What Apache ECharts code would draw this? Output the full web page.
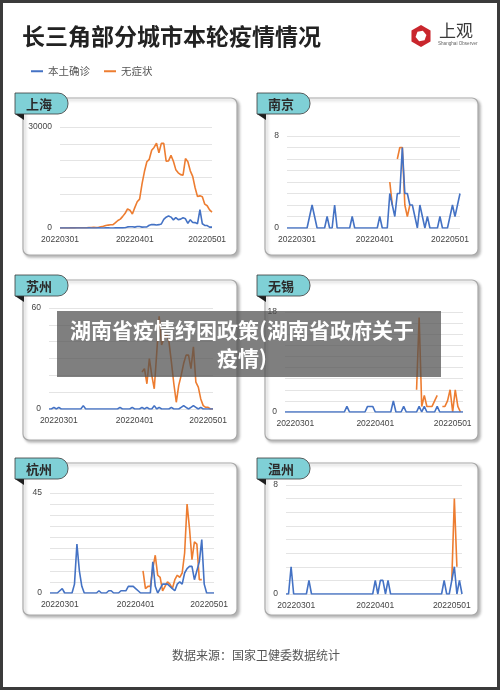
<!DOCTYPE html>
<html>
<head>
<meta charset="utf-8">
<script src="https://cdn.jsdelivr.net/npm/echarts@6/dist/echarts.min.js"></script>
<style>
html,body{margin:0;padding:0;background:#fff;}
#c{width:500px;height:690px;}
</style>
</head>
<body>
<div id="c"></div>
<script>
// ---------------- data ----------------
const cities = ['上海', '南京', '苏州', '无锡', '杭州', '温州'];
const seriesNames = ['本土确诊', '无症状'];
const tickLabels = ['20220301', '20220401', '20220501'];
const startDates = ['20220301', '20220225', '20220225', '20220225', '20220225', '20220225'];
const axisMax = [30000, 8, 60, 18, 45, 8];
const axisStep = [5000, 1, 10, 2, 5, 1];

const shConfirmed = [1,3,2,3,0,3,4,3,4,11,5,1,41,5,5,8,57,8,17,24,31,4,4,29,38,45,50,96,326,355,358,
  260,438,425,268,311,322,824,1015,1006,914,994,1189,2573,3200,3590,3238,2417,3084,2494,2634,3029,2736,1401,2472,1661,1606,1292,5487,1249,788,
  727,274,260];
const shAsym = [1,3,14,16,28,45,51,62,76,64,78,64,128,130,197,150,203,366,492,734,865,977,979,1580,2231,2631,3450,4381,5656,5298,4144,
  6051,7788,8581,13086,16766,19660,20398,23107,23937,25173,22348,25141,25146,19872,19923,21582,19831,17332,16407,15861,15698,20634,19657,16983,15319,11956,9330,9545,9277,7084,
  6606,5395,4722];

const njConfirmed = [0,0,0,0,0,0,0,0, 0,1,2,1,0,0,0,0, 1,0,0,2,0,0,0,0, 0,0,1,0,0,0,0,0,
  0,0,0,0,0,1,0,0, 0,3,2,1,3,3,7,3, 3,2,2,1,0,2,1,0, 1,0,0,0,0,1,0,0, 0,1,2,1,2,3];
const njAsym = [null,null,null,null,null,null,null,null,null,null,null,null,null,null,null,null,null,null,null,null,
  null,null,null,null,null,null,null,null,null,null,null,null,null,null,null,null,null,null,null,null,
  null,4,2,null,6,7,7,2,1,2,null,null,null,null,null,null,null,null,null,null,
  null,null,null,null,null,null,null,null,null,null];

const szConfirmed = [0,0,1,0,1,0,0,0, 0,0,0,0,0,0,2,0, 0,0,0,0,0,0,0,0, 0,0,0,0,0,1,0,0,
  0,0,1,0,0,0,1,0, 1,0,0,2,0,1,0,0, 0,0,1,0,0,0,1,2, 1,0,1,2,1,0,1,0, 0,0,0,0];
const szAsym = [null,null,null,null,null,null,null,null,null,null,null,null,null,null,null,null,null,null,null,null,
  null,null,null,null,null,null,null,null,null,null,null,null,null,null,null,null,null,null,
  22,24,15,30,20,12,33,55,38,42,45,40,28,15,4,14,20,27,32,32,24,37,16,13,6,2,1,1,0,0];

const wxConfirmed = [0,0,0,0,0,0,0,0,0,0, 0,0,0,0,0,0,0,0,0,0, 0,0,0,0,1,0,0,0,0,0,
  0,0,1,1,1,0,0,0,0,0, 0,0,2,0,0,0,1,0,0,0, 0,0,1,0,1,0,0,0,0,1, 0,0,0,0,0,0,0,0,0,0];
const wxAsym = [null,null,null,null,null,null,null,null,null,null,null,null,null,null,null,null,null,null,null,null,
  null,null,null,null,null,null,null,null,null,null,null,null,null,null,null,null,null,null,null,null,
  null,null,null,null,null,null,null,null,null,null,null,
  4,17,1,3,1,1,1,2,3,null,1,1,2,4,0,4,1,0,null];

const hzConfirmed = [0,0,0,0,1,2,0,0,0,0,4,22,10,3,0, 0,0,0,0,0,1,0,0,0,1,1,0,0,0,1,1,1,3,3,3,2,1,0,0,0,0,0,
  14,3,0,2,4,4,4,3,2,1,4,5,4,9,11,12,12,6,10,14,24,4,0,0,0,0];
const hzAsym = [null,null,null,null,null,null,null,null,null,null,null,null,null,null,null,null,null,null,null,null,
  null,null,null,null,null,null,null,null,null,null,null,null,null,null,null,null,null,null,
  10,2,3,3,11,17,8,7,1,3,5,4,2,6,8,7,9,18,40,29,15,23,22,6,6,null,null,null,null,null];

const wzConfirmed = [0,0,2,0,0,0,0,0,0,1, 0,0,0,0,0,0,0,0,0,0, 0,0,0,0,0,0,0,0,0,0,
  0,0,0,0,0,1,0,1,1,0, 1,0,0,0,0,0,0,0,0,0, 0,0,0,0,0,0,0,0,0,0, 0,0,1,0,0,1,2,0,1,0];
const wzAsym = [null,null,null,null,null,null,null,null,null,null,null,null,null,null,null,null,null,null,null,null,
  null,null,null,null,null,null,null,null,null,null,null,null,null,null,null,null,null,null,null,null,
  null,null,null,null,null,null,null,null,null,null,null,null,null,null,null,null,null,null,null,null,
  null,null,null,null,null,1,7,2,null,null];

const confirmedData = [shConfirmed, njConfirmed, szConfirmed, wxConfirmed, hzConfirmed, wzConfirmed];
const asymData = [shAsym, njAsym, szAsym, wxAsym, hzAsym, wzAsym];

// ---------------- layout ----------------
const gridBoxes = [
  {left: 60, top: 127, width: 152, height: 101},
  {left: 287, top: 136, width: 173, height: 92},
  {left: 49, top: 308, width: 164, height: 101},
  {left: 285, top: 312, width: 178, height: 100},
  {left: 50, top: 493, width: 164, height: 100},
  {left: 286, top: 485, width: 176, height: 109}
];
const colX = [23, 265], colW = [214, 213];
const rowY = [98, 280, 463], rowH = [157, 160, 152];
const tagX = [15, 257];
const BLUE = '#4472c4', ORANGE = '#ed7d31';

function dateList(start, n) {
  const y = +start.slice(0, 4), m = +start.slice(4, 6) - 1, d = +start.slice(6, 8);
  const out = [];
  for (let i = 0; i < n; i++) {
    const t = new Date(Date.UTC(y, m, d + i));
    out.push(t.getUTCFullYear() + String(t.getUTCMonth() + 1).padStart(2, '0') + String(t.getUTCDate()).padStart(2, '0'));
  }
  return out;
}

const grids = [], xAxes = [], yAxes = [], series = [], graphics = [];

// outer frame
graphics.push({type: 'rect', shape: {x: 0, y: 0, width: 500, height: 690}, style: {fill: 'none', stroke: '#3b3b3b', lineWidth: 6}, z: 200, silent: true});

cities.forEach((city, i) => {
  const col = i % 2, row = Math.floor(i / 2);
  // panel
  graphics.push({type: 'rect', shape: {x: colX[col], y: rowY[row], width: colW[col], height: rowH[row], r: 6},
    style: {fill: '#fff', stroke: '#a9a9a9', lineWidth: 1.2, shadowBlur: 3, shadowOffsetX: 2, shadowOffsetY: 2, shadowColor: 'rgba(0,0,0,0.28)'},
    z: -5, silent: true});
  // fold triangle
  const ty = rowY[row] - 5;
  graphics.push({type: 'polygon', shape: {points: [[tagX[col], ty + 21], [tagX[col] + 9, ty + 21], [tagX[col] + 9, ty + 27]]},
    style: {fill: '#1e1e1e'}, z: 10, silent: true});
  // tag
  graphics.push({type: 'rect', shape: {x: tagX[col], y: ty, width: 53, height: 21, r: [0, 10, 10, 0]},
    style: {fill: '#7fd0d6', stroke: '#3a3a3a', lineWidth: 0.8}, z: 10, silent: true});
  graphics.push({type: 'text', x: tagX[col] + 24, y: ty + 11,
    style: {text: city, fill: '#2b2b2b', fontSize: 13, fontWeight: 'bold', fontFamily: 'Noto Sans CJK SC', align: 'center', verticalAlign: 'middle'},
    z: 11, silent: true});

  const g = gridBoxes[i];
  grids.push({left: g.left, top: g.top, width: g.width, height: g.height, containLabel: false});
  const max = axisMax[i];
  xAxes.push({
    gridIndex: i, type: 'category', boundaryGap: false,
    data: dateList(startDates[i], confirmedData[i].length),
    axisLine: {show: false}, axisTick: {show: false},
    axisLabel: {interval: (idx, val) => tickLabels.includes(val), color: '#444', fontSize: 8.5, margin: 7, fontFamily: 'Liberation Sans'}
  });
  yAxes.push({
    gridIndex: i, type: 'value', min: 0, max: max, interval: axisStep[i],
    axisLine: {show: false}, axisTick: {show: false},
    axisLabel: {formatter: v => (v === 0 || v === max) ? String(v) : '', color: '#444', fontSize: 8.5, margin: 8, fontFamily: 'Liberation Sans'},
    splitLine: {lineStyle: {color: '#e4e4e4', width: 1}}
  });
  series.push({name: seriesNames[0], type: 'line', xAxisIndex: i, yAxisIndex: i, data: confirmedData[i],
    showSymbol: false, symbol: 'none', lineStyle: {color: BLUE, width: 1.6}, itemStyle: {color: BLUE}, z: 3});
  series.push({name: seriesNames[1], type: 'line', xAxisIndex: i, yAxisIndex: i, data: asymData[i],
    showSymbol: false, symbol: 'none', connectNulls: false, lineStyle: {color: ORANGE, width: 1.6}, itemStyle: {color: ORANGE}, z: 2});
});

// logo
const hexOuter = [], hexInner = [];
for (let k = 0; k < 6; k++) {
  const a = Math.PI / 3 * k + Math.PI / 6;
  hexOuter.push([421 + 11 * Math.cos(a), 36 + 11 * Math.sin(a)]);
  const b = Math.PI / 3 * k + Math.PI / 6 + 0.35;
  hexInner.push([421 + 5.5 * Math.cos(b), 36 + 5.5 * Math.sin(b)]);
}
graphics.push({type: 'polygon', shape: {points: hexOuter}, style: {fill: '#c9262d'}, z: 20, silent: true});
graphics.push({type: 'polygon', shape: {points: hexInner}, style: {fill: '#fff'}, z: 21, silent: true});
graphics.push({type: 'text', x: 439, y: 31, style: {text: '上观', fill: '#3a3a3a', fontSize: 17, fontFamily: 'Noto Sans CJK SC', verticalAlign: 'middle'}, z: 20, silent: true});
graphics.push({type: 'text', x: 438, y: 44, style: {text: 'Shanghai Observer', fill: '#666', fontSize: 4.6, fontFamily: 'Liberation Sans', verticalAlign: 'middle'}, z: 20, silent: true});

// footer
graphics.push({type: 'text', x: 256, y: 655, style: {text: '数据来源：国家卫健委数据统计', fill: '#555', fontSize: 12, fontFamily: 'Noto Sans CJK SC', align: 'center', verticalAlign: 'middle'}, z: 20, silent: true});

// watermark overlay
graphics.push({type: 'rect', shape: {x: 57, y: 311, width: 384, height: 66}, style: {fill: 'rgba(78,78,78,0.72)'}, z: 150, silent: true});
graphics.push({type: 'text', x: 242, y: 344,
  style: {text: '湖南省疫情纾困政策(湖南省政府关于\n疫情)', fill: '#fff', fontSize: 21, fontWeight: 'bold', lineHeight: 28,
    fontFamily: 'Noto Sans CJK SC', align: 'center', verticalAlign: 'middle'}, z: 151, silent: true});

const option = {
  backgroundColor: '#ffffff',
  animation: false,
  title: {text: '长三角部分城市本轮疫情情况', left: 17, top: 20,
    textStyle: {fontSize: 23, fontWeight: 'bold', color: '#222', fontFamily: 'Noto Sans CJK SC'}},
  legend: {data: seriesNames, left: 26, top: 61, icon: 'rect', itemWidth: 12, itemHeight: 2, itemGap: 14,
    textStyle: {fontSize: 10.5, color: '#555', fontFamily: 'Noto Sans CJK SC'}},
  grid: grids, xAxis: xAxes, yAxis: yAxes, series: series,
  graphic: {elements: graphics}
};

const chart = echarts.init(document.getElementById('c'), null, {renderer: 'canvas', width: 500, height: 690});
chart.setOption(option);
</script>
</body>
</html>
